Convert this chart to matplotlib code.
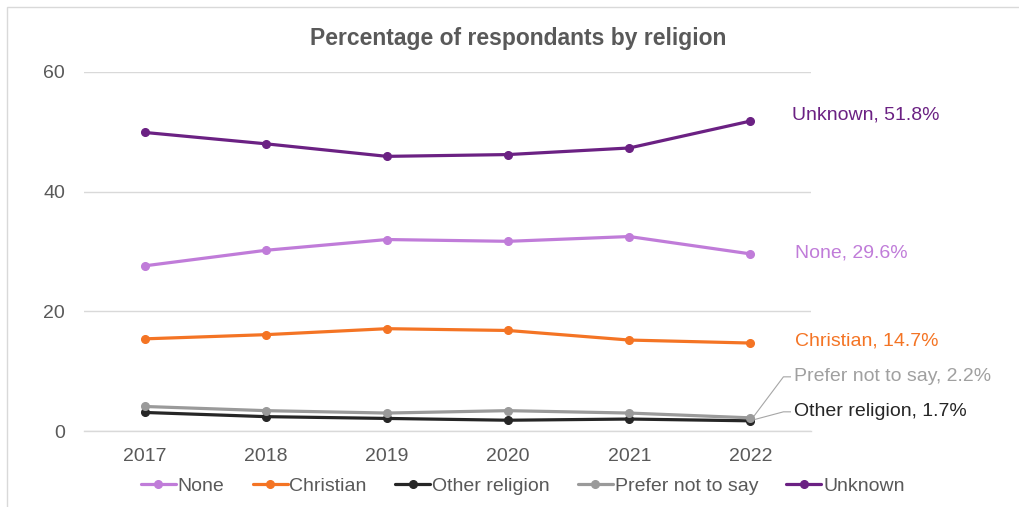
import matplotlib
matplotlib.use('Agg')
import matplotlib.pyplot as plt
from matplotlib.patches import Rectangle

# --- Data ---
years = ['2017', '2018', '2019', '2020', '2021', '2022']
none_pct = [27.6, 30.2, 32.0, 31.7, 32.5, 29.6]
christian_pct = [15.4, 16.1, 17.1, 16.8, 15.2, 14.7]
other_pct = [3.1, 2.4, 2.1, 1.8, 2.0, 1.7]
prefer_not_pct = [4.1, 3.4, 3.0, 3.4, 3.0, 2.2]
unknown_pct = [49.9, 48.0, 45.9, 46.2, 47.3, 51.8]

series_names = ['None', 'Christian', 'Other religion', 'Prefer not to say', 'Unknown']
series_values = [none_pct, christian_pct, other_pct, prefer_not_pct, unknown_pct]
series_colors = ['#C07CD9', '#F47424', '#262626', '#9A9A9A', '#6B2183']
label_colors = ['#C07CD9', '#F47424', '#262626', '#A0A0A0', '#6B2183']

# end-label offsets in pixels from the last point (dx, dy)
label_offsets = [(45, 1), (45, 2), (44, 9), (44, 41), (42, 6)]

plt.rcParams['font.family'] = ['Liberation Sans', 'DejaVu Sans']

fig = plt.figure(figsize=(10.19, 5.07), dpi=100)
ax = fig.add_axes([0.0824, 0.1499, 0.7135, 0.7081])
ax.set_xlim(-0.5, 5.5)
ax.set_ylim(0, 60)

# outer chart frame
fig.patches.append(Rectangle((7 / 1019, -0.1), 1.2, 1.1 - 7 / 507,
                             transform=fig.transFigure, fill=False,
                             edgecolor='#D9D9D9', linewidth=1))

x = list(range(len(years)))
for name, vals, col in zip(series_names, series_values, series_colors):
    ax.plot(x, vals, color=col, linewidth=2.3, marker='o', markersize=5.5,
            label=name, solid_capstyle='round', zorder=3)

# end labels
for name, vals, col, (dx, dy) in zip(series_names, series_values, label_colors, label_offsets):
    ax.annotate(f'{name}, {vals[-1]}%', xy=(x[-1], vals[-1]),
                xytext=(dx, dy), textcoords='offset pixels',
                ha='left', va='center', fontsize=14, color=col,
                annotation_clip=False)

# leader lines for the two crowded labels
inv = ax.transData.inverted()
for vals, (dx, dy) in [(prefer_not_pct, label_offsets[3]), (other_pct, label_offsets[2])]:
    px, py = ax.transData.transform((x[-1], vals[-1]))
    xs = [px + 3, px + 33, px + 40]
    ys = [py + 1, py + dy, py + dy]
    pts = [inv.transform((a, b)) for a, b in zip(xs, ys)]
    ax.plot([p[0] for p in pts], [p[1] for p in pts], color='#A6A6A6',
            linewidth=0.8, clip_on=False, zorder=2)

ax.set_yticks([0, 20, 40, 60])
ax.set_xticks(x)
ax.set_xticklabels(years)
ax.grid(axis='y', color='#D9D9D9', linewidth=1)
ax.set_axisbelow(True)
for side in ['top', 'right', 'left']:
    ax.spines[side].set_visible(False)
ax.spines['bottom'].set_color('#D9D9D9')
ax.spines['bottom'].set_linewidth(1)
ax.tick_params(axis='both', length=0, labelsize=14, colors='#595959')
ax.tick_params(axis='y', pad=13.5)
ax.tick_params(axis='x', pad=12)

fig.text(0.509, 0.925, 'Percentage of respondants by religion', ha='center',
         va='center', fontsize=16.5, fontweight='bold', color='#595959')

fig.legend(loc='center', bbox_to_anchor=(0.513, 0.041), ncol=5, frameon=False,
           fontsize=14, handlelength=1.8, handletextpad=0.1, columnspacing=1.45,
           labelcolor='#595959')

fig.savefig('out.png', dpi=100, facecolor='white')
